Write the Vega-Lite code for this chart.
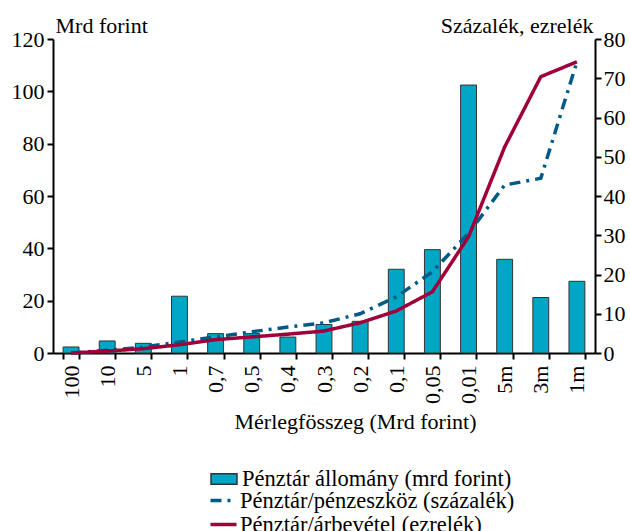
{
  "$schema": "https://vega.github.io/schema/vega-lite/v6.json",
  "width": 542,
  "height": 314,
  "autosize": "none",
  "padding": {"left": 53, "top": 39, "right": 35, "bottom": 178},
  "background": "white",
  "config": {
    "font": "'Liberation Serif', 'DejaVu Serif', serif",
    "view": {"stroke": null},
    "axis": {
      "grid": false,
      "domainColor": "black",
      "domainWidth": 2,
      "tickColor": "black",
      "tickWidth": 2,
      "tickSize": 6,
      "labelColor": "black",
      "labelFont": "'Liberation Serif', 'DejaVu Serif', serif",
      "labelFontSize": 22,
      "titleFont": "'Liberation Serif', 'DejaVu Serif', serif",
      "titleFontSize": 22,
      "titleFontWeight": "normal",
      "titleColor": "black"
    },
    "legend": {
      "labelFont": "'Liberation Serif', 'DejaVu Serif', serif",
      "labelFontSize": 22.5,
      "labelColor": "black",
      "labelLimit": 500,
      "labelOffset": 4,
      "rowPadding": 0,
      "padding": 0,
      "titlePadding": 0
    }
  },
  "data": {
    "values": [
      {"kat": "100", "allomany": 2.3, "penzeszkoz": 0, "arbevetel": 0},
      {"kat": "10", "allomany": 4.6, "penzeszkoz": 0.7, "arbevetel": 0.5},
      {"kat": "5", "allomany": 3.7, "penzeszkoz": 1.5, "arbevetel": 1.1},
      {"kat": "1", "allomany": 21.7, "penzeszkoz": 2.8, "arbevetel": 2.1},
      {"kat": "0,7", "allomany": 7.4, "penzeszkoz": 4.1, "arbevetel": 3.4},
      {"kat": "0,5", "allomany": 7.4, "penzeszkoz": 5.4, "arbevetel": 4.1},
      {"kat": "0,4", "allomany": 6.1, "penzeszkoz": 6.6, "arbevetel": 4.8},
      {"kat": "0,3", "allomany": 10.9, "penzeszkoz": 7.7, "arbevetel": 5.6},
      {"kat": "0,2", "allomany": 12.1, "penzeszkoz": 10.0, "arbevetel": 7.7},
      {"kat": "0,1", "allomany": 32.0, "penzeszkoz": 14.3, "arbevetel": 10.7},
      {"kat": "0,05", "allomany": 39.5, "penzeszkoz": 20.7, "arbevetel": 15.6},
      {"kat": "0,01", "allomany": 102.4, "penzeszkoz": 30.5, "arbevetel": 29.6},
      {"kat": "5m", "allomany": 35.8, "penzeszkoz": 42.8, "arbevetel": 52.5},
      {"kat": "3m", "allomany": 21.2, "penzeszkoz": 44.5, "arbevetel": 70.4},
      {"kat": "1m", "allomany": 27.4, "penzeszkoz": 74.2, "arbevetel": 74.2}
    ]
  },
  "layer": [
    {
      "transform": [{"fold": ["allomany"], "as": ["series", "value"]}],
      "mark": {"type": "bar", "stroke": "#333333", "strokeWidth": 1},
      "encoding": {
        "x": {
          "field": "kat",
          "type": "nominal",
          "sort": ["100", "10", "5", "1", "0,7", "0,5", "0,4", "0,3", "0,2", "0,1", "0,05", "0,01", "5m", "3m", "1m"],
          "scale": {"paddingInner": 0.56, "paddingOuter": 0.28},
          "axis": {
            "labelAngle": -90,
            "labelPadding": 6,
            "tickBand": "extent",
            "title": "Mérlegfösszeg (Mrd forint)",
            "titleX": 302,
            "titleY": 75,
            "titleBaseline": "alphabetic",
            "titleAlign": "center",
            "titleAnchor": null
          }
        },
        "y": {
          "field": "value",
          "type": "quantitative",
          "scale": {"domain": [0, 120]},
          "axis": {
            "orient": "left",
            "values": [0, 20, 40, 60, 80, 100, 120],
            "labelPadding": 3,
            "title": "Mrd forint",
            "titleAngle": 0,
            "titleAlign": "left",
            "titleBaseline": "alphabetic",
            "titleX": 2,
            "titleY": -7
          }
        },
        "color": {
          "field": "series",
          "type": "nominal",
          "scale": {"domain": ["allomany"], "range": ["#00A6C6"]},
          "legend": {
            "orient": "none",
            "legendX": 157,
            "legendY": 426,
            "title": null,
            "symbolType": "M-1,-0.4H1V0.4H-1Z",
            "symbolSize": 676,
            "symbolStrokeColor": "#333333",
            "symbolStrokeWidth": 1.5,
            "labelExpr": "'Pénztár állomány (mrd forint)'"
          }
        }
      }
    },
    {
      "transform": [{"fold": ["penzeszkoz", "arbevetel"], "as": ["series", "value"]}],
      "mark": {"type": "line", "strokeWidth": 3.5},
      "encoding": {
        "x": {
          "field": "kat",
          "type": "nominal",
          "sort": ["100", "10", "5", "1", "0,7", "0,5", "0,4", "0,3", "0,2", "0,1", "0,05", "0,01", "5m", "3m", "1m"]
        },
        "y": {
          "field": "value",
          "type": "quantitative",
          "scale": {"domain": [0, 80]},
          "axis": {
            "orient": "right",
            "values": [0, 10, 20, 30, 40, 50, 60, 70, 80],
            "labelPadding": 2,
            "title": "Százalék, ezrelék",
            "titleAngle": 0,
            "titleAlign": "right",
            "titleBaseline": "alphabetic",
            "titleX": -2,
            "titleY": -7
          }
        },
        "color": {
          "field": "series",
          "type": "nominal",
          "scale": {"domain": ["penzeszkoz", "arbevetel"], "range": ["#005A87", "#A0003A"]},
          "legend": {
            "orient": "none",
            "legendX": 158,
            "legendY": 449,
            "title": null,
            "symbolType": "M-1.24,0H1.24",
            "symbolSize": 441,
            "symbolStrokeWidth": 3.5,
            "labelExpr": "datum.label == 'penzeszkoz' ? 'Pénztár/pénzeszköz (százalék)' : 'Pénztár/árbevétel (ezrelék)'"
          }
        },
        "strokeDash": {
          "field": "series",
          "type": "nominal",
          "scale": {"domain": ["penzeszkoz", "arbevetel"], "range": [[11, 6, 3, 6], [1, 0]]},
          "legend": {
            "orient": "none",
            "legendX": 158,
            "legendY": 449,
            "title": null,
            "symbolType": "M-1.24,0H1.24",
            "symbolSize": 441,
            "symbolStrokeWidth": 3.5,
            "labelExpr": "datum.label == 'penzeszkoz' ? 'Pénztár/pénzeszköz (százalék)' : 'Pénztár/árbevétel (ezrelék)'"
          }
        }
      }
    }
  ],
  "resolve": {
    "scale": {"y": "independent", "color": "independent", "strokeDash": "independent"},
    "legend": {"color": "independent", "strokeDash": "independent"}
  }
}
